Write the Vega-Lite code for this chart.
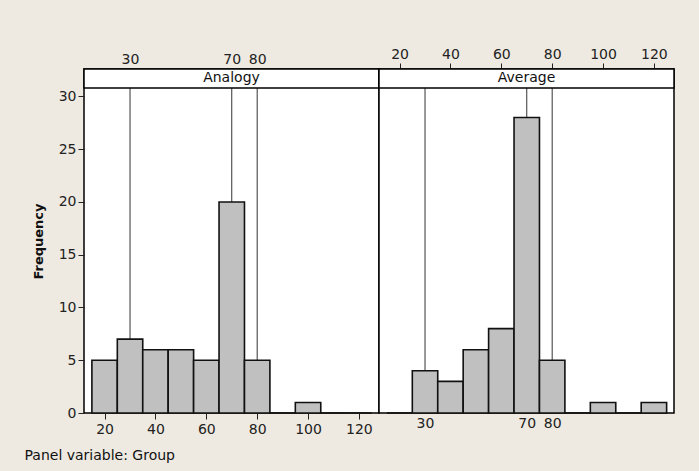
{
  "$schema": "https://vega.github.io/schema/vega-lite/v6.json",
  "background": "#EEEAE1",
  "padding": {"left": 23, "top": 46, "right": 26, "bottom": 9},
  "spacing": 0,
  "bounds": "flush",
  "datasets": {
    "bins": [
      {"Group": "Analogy", "lo": 15, "hi": 25, "n": 5},
      {"Group": "Analogy", "lo": 25, "hi": 35, "n": 7},
      {"Group": "Analogy", "lo": 35, "hi": 45, "n": 6},
      {"Group": "Analogy", "lo": 45, "hi": 55, "n": 6},
      {"Group": "Analogy", "lo": 55, "hi": 65, "n": 5},
      {"Group": "Analogy", "lo": 65, "hi": 75, "n": 20},
      {"Group": "Analogy", "lo": 75, "hi": 85, "n": 5},
      {"Group": "Analogy", "lo": 85, "hi": 95, "n": 0},
      {"Group": "Analogy", "lo": 95, "hi": 105, "n": 1},
      {"Group": "Analogy", "lo": 105, "hi": 115, "n": 0},
      {"Group": "Analogy", "lo": 115, "hi": 125, "n": 0},
      {"Group": "Average", "lo": 15, "hi": 25, "n": 0},
      {"Group": "Average", "lo": 25, "hi": 35, "n": 4},
      {"Group": "Average", "lo": 35, "hi": 45, "n": 3},
      {"Group": "Average", "lo": 45, "hi": 55, "n": 6},
      {"Group": "Average", "lo": 55, "hi": 65, "n": 8},
      {"Group": "Average", "lo": 65, "hi": 75, "n": 28},
      {"Group": "Average", "lo": 75, "hi": 85, "n": 5},
      {"Group": "Average", "lo": 85, "hi": 95, "n": 0},
      {"Group": "Average", "lo": 95, "hi": 105, "n": 1},
      {"Group": "Average", "lo": 105, "hi": 115, "n": 0},
      {"Group": "Average", "lo": 115, "hi": 125, "n": 1}
    ],
    "refs": [
      {"Group": "Analogy", "ref": 30},
      {"Group": "Analogy", "ref": 70},
      {"Group": "Analogy", "ref": 80},
      {"Group": "Average", "ref": 30},
      {"Group": "Average", "ref": 70},
      {"Group": "Average", "ref": 80}
    ],
    "strips": [
      {"Group": "Analogy"},
      {"Group": "Average"}
    ]
  },
  "config": {
    "font": "DejaVu Sans",
    "view": {"stroke": "#000", "strokeWidth": 1.5, "fill": "white"},
    "axis": {
      "domain": false,
      "grid": false,
      "labelFont": "DejaVu Sans",
      "labelFontSize": 14,
      "labelColor": "#222",
      "tickColor": "#222",
      "tickSize": 6,
      "tickWidth": 1,
      "titleColor": "#111",
      "titleFont": "DejaVu Sans"
    }
  },
  "hconcat": [
    {
      "width": 295,
      "height": 344,
      "encoding": {
        "y": {"type": "quantitative", "scale": {"domain": [0, 32.6], "nice": false},
              "axis": {"orient": "left", "values": [0, 5, 10, 15, 20, 25, 30], "title": "Frequency",
                       "labelPadding": 2, "titlePadding": 13,
                       "titleFontSize": 13, "titleFontWeight": "bold"}}
      },
      "layer": [
        {
          "data": {"name": "refs"},
          "transform": [{"filter": "datum.Group === 'Analogy'"}],
          "mark": {"type": "rule", "color": "#333", "strokeWidth": 1},
          "encoding": {
            "x": {"field": "ref", "type": "quantitative",
                  "scale": {"domain": [11.9, 127.9], "nice": false, "zero": false},
                  "axis": {"orient": "top", "values": [30, 70, 80], "ticks": false, "tickSize": 0, "labelPadding": 3, "title": null}},
            "y": {"datum": 0},
            "y2": {"datum": 30.8}
          }
        },
        {
          "data": {"name": "bins"},
          "transform": [{"filter": "datum.Group === 'Analogy'"}],
          "mark": {"type": "rect", "fill": "#C0C0C0", "stroke": "#111", "strokeWidth": 1.6},
          "encoding": {
            "x": {"field": "lo", "type": "quantitative",
                  "scale": {"domain": [11.9, 127.9], "nice": false, "zero": false},
                  "axis": {"orient": "bottom", "values": [20, 40, 60, 80, 100, 120], "labelPadding": 3,
                           "title": "Panel variable: Group", "titleFontSize": 14, "titleFontWeight": "normal",
                           "titleX": -60, "titleY": 46, "titleAlign": "left", "titleAnchor": "start", "titleBaseline": "alphabetic"}},
            "x2": {"field": "hi"},
            "y": {"field": "n"},
            "y2": {"datum": 0}
          }
        },
        {
          "data": {"name": "strips"},
          "transform": [{"filter": "datum.Group === 'Analogy'"}],
          "mark": {"type": "rect", "fill": "white", "stroke": "#000", "strokeWidth": 1.5},
          "encoding": {
            "x": {"datum": 11.9, "type": "quantitative", "axis": null},
            "x2": {"datum": 127.9},
            "y": {"datum": 30.8},
            "y2": {"datum": 32.6}
          }
        },
        {
          "data": {"name": "strips"},
          "transform": [{"filter": "datum.Group === 'Analogy'"}],
          "mark": {"type": "text", "fontSize": 14, "color": "#111", "baseline": "middle", "align": "center"},
          "encoding": {
            "x": {"datum": 69.9, "type": "quantitative", "axis": null},
            "y": {"datum": 31.7},
            "text": {"field": "Group"}
          }
        }
      ]
    },
    {
      "width": 295,
      "height": 344,
      "layer": [
        {
          "data": {"name": "refs"},
          "transform": [{"filter": "datum.Group === 'Average'"}],
          "mark": {"type": "rule", "color": "#333", "strokeWidth": 1},
          "encoding": {
            "x": {"field": "ref", "type": "quantitative",
                  "scale": {"domain": [11.9, 127.9], "nice": false, "zero": false},
                  "axis": {"orient": "bottom", "values": [30, 70, 80], "ticks": false, "tickSize": 0, "labelPadding": 3, "title": null}},
            "y": {"datum": 0, "type": "quantitative", "scale": {"domain": [0, 32.6], "nice": false}, "axis": null},
            "y2": {"datum": 30.8}
          }
        },
        {
          "data": {"name": "bins"},
          "transform": [{"filter": "datum.Group === 'Average'"}],
          "mark": {"type": "rect", "fill": "#C0C0C0", "stroke": "#111", "strokeWidth": 1.6},
          "encoding": {
            "x": {"field": "lo", "type": "quantitative",
                  "scale": {"domain": [11.9, 127.9], "nice": false, "zero": false},
                  "axis": {"orient": "top", "values": [20, 40, 60, 80, 100, 120], "labelPadding": 2, "title": null}},
            "x2": {"field": "hi"},
            "y": {"field": "n", "type": "quantitative", "scale": {"domain": [0, 32.6], "nice": false}, "axis": null},
            "y2": {"datum": 0}
          }
        },
        {
          "data": {"name": "strips"},
          "transform": [{"filter": "datum.Group === 'Average'"}],
          "mark": {"type": "rect", "fill": "white", "stroke": "#000", "strokeWidth": 1.5},
          "encoding": {
            "x": {"datum": 11.9, "type": "quantitative", "axis": null},
            "x2": {"datum": 127.9},
            "y": {"datum": 30.8, "type": "quantitative", "axis": null},
            "y2": {"datum": 32.6}
          }
        },
        {
          "data": {"name": "strips"},
          "transform": [{"filter": "datum.Group === 'Average'"}],
          "mark": {"type": "text", "fontSize": 14, "color": "#111", "baseline": "middle", "align": "center"},
          "encoding": {
            "x": {"datum": 69.9, "type": "quantitative", "axis": null},
            "y": {"datum": 31.7, "type": "quantitative", "axis": null},
            "text": {"field": "Group"}
          }
        }
      ]
    }
  ]
}
